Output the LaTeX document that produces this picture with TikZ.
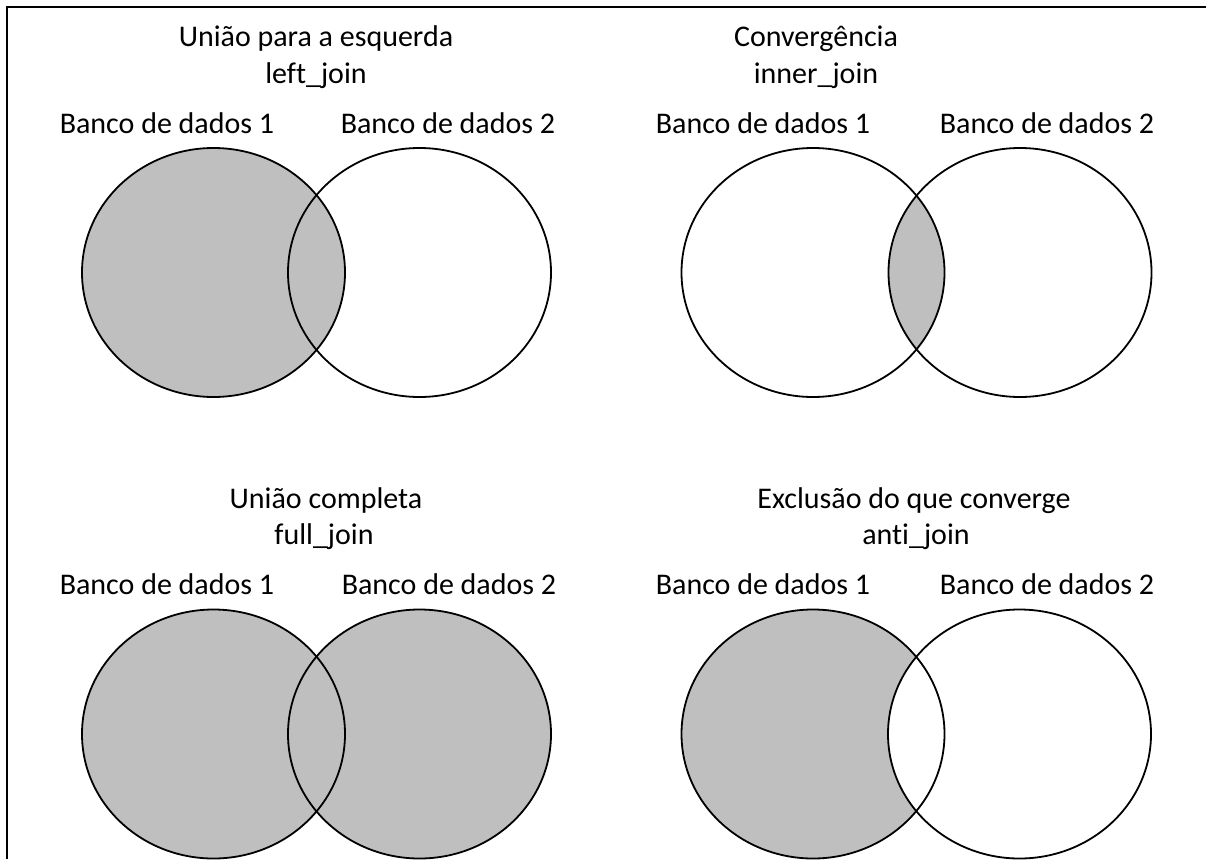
\documentclass[tikz,border=0pt]{standalone}
\usepackage{fontspec}
\setmainfont{Carlito}[Ligatures={NoCommon,NoRare,NoContextual}]
\newcommand\vennE[1]{(#1) ellipse [x radius=131.5pt, y radius=124.5pt]}
\begin{document}
\begin{tikzpicture}[x=1pt,y=-1pt,
  outl/.style={line width=1.8pt, draw=black},
  grayfill/.style={fill=vgray},
  txt/.style={font=\fontsize{30}{36}\selectfont, anchor=base, inner sep=0pt}]
\definecolor{vgray}{RGB}{191,191,191}
\useasboundingbox (0,0) rectangle (1206,859);
\draw[line width=2pt] (7,859) -- (7,7) -- (1206,7);
% ---------- left_join ----------
\fill[grayfill] \vennE{213.5,272.5};
\draw[outl] \vennE{213.5,272.5};
\draw[outl] \vennE{419.5,272.5};
\node[txt] (t1a) at (316,47) {União para a esquerda};
\node[txt] (t1b) at (316,83) {left\_join};
\node[txt] (l1a) at (167,133) {Banco de dados 1};
\node[txt] (l1b) at (448,133) {Banco de dados 2};
% ---------- inner_join ----------
\begin{scope}
  \clip \vennE{813,272.5};
  \fill[grayfill] \vennE{1020,272.5};
\end{scope}
\draw[outl] \vennE{813,272.5};
\draw[outl] \vennE{1020,272.5};
\node[txt] (t2a) at (816,47) {Convergência};
\node[txt] (t2b) at (816,83) {inner\_join};
\node[txt] (l2a) at (763,133) {Banco de dados 1};
\node[txt] (l2b) at (1047,133) {Banco de dados 2};
% ---------- full_join ----------
\fill[grayfill] \vennE{213.5,734};
\fill[grayfill] \vennE{419.5,734};
\draw[outl] \vennE{213.5,734};
\draw[outl] \vennE{419.5,734};
\node[txt] (t3a) at (326,508.5) {União completa};
\node[txt] (t3b) at (324,544.5) {full\_join};
\node[txt] (l3a) at (167,594.5) {Banco de dados 1};
\node[txt] (l3b) at (449,594.5) {Banco de dados 2};
% ---------- anti_join ----------
\fill[grayfill] \vennE{813,734};
\fill[white] \vennE{1019.5,734};
\draw[outl] \vennE{813,734};
\draw[outl] \vennE{1019.5,734};
\node[txt] (t4a) at (914,508.5) {Exclusão do que converge};
\node[txt] (t4b) at (916,544.5) {ant\kern0pt i\_join};
\node[txt] (l4a) at (763,594.5) {Banco de dados 1};
\node[txt] (l4b) at (1047,594.5) {Banco de dados 2};
\end{tikzpicture}
\end{document}
